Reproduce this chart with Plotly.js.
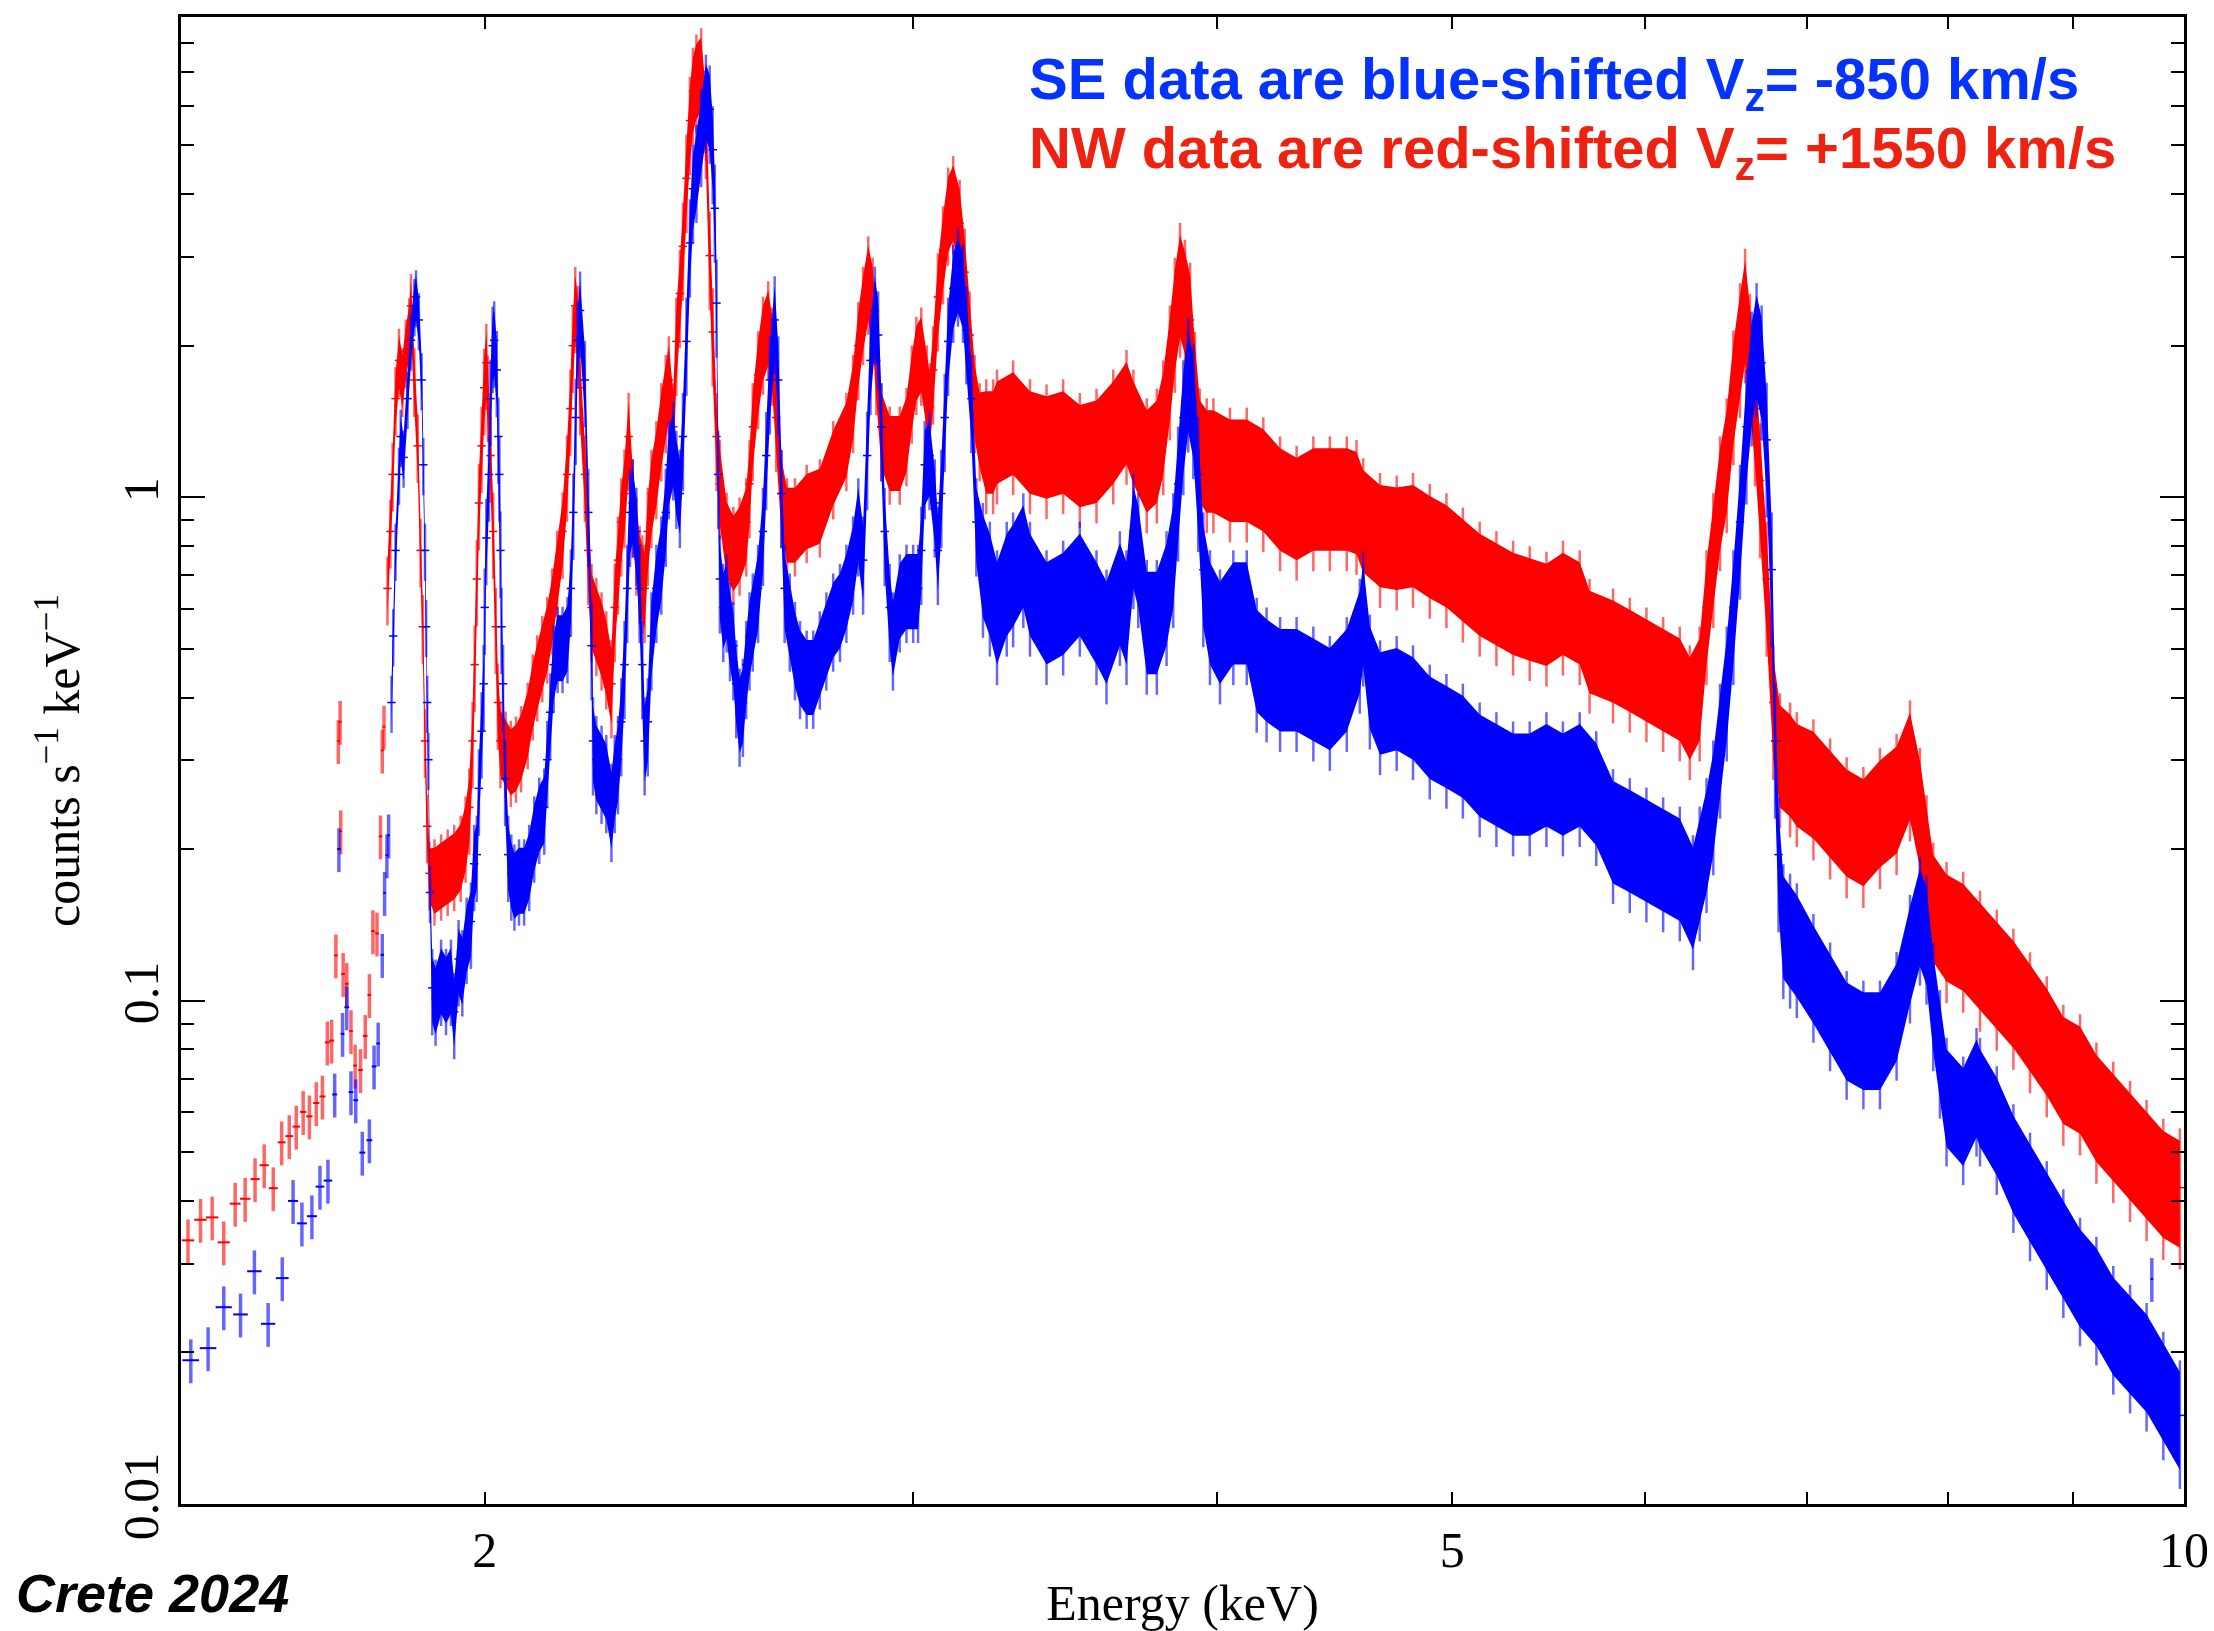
<!DOCTYPE html>
<html><head><meta charset="utf-8">
<script src="https://cdn.plot.ly/plotly-3.0.1.min.js"></script>
<style>html,body{margin:0;padding:0;background:#fff}</style>
</head><body><div id="chart" style="width:2214px;height:1631px"></div>
<script>
// ---------- low-energy, sparsely binned points (keV, counts/s/keV) ----------
const nwBinE    = [1.510,1.528,1.545,1.562,1.579,1.594,1.609,1.623,1.637,1.650,1.662,1.673,1.684,1.694,1.705,1.715,1.723,1.730,1.737,1.741,1.744,1.745,1.749,1.755,1.762,1.769,1.778,1.786,1.793,1.799,1.806,1.812,1.815,1.818];
const nwBinRate = [0.0334,0.0367,0.0371,0.0331,0.0395,0.0404,0.0442,0.0471,0.0424,0.0523,0.0538,0.0562,0.0601,0.0589,0.0626,0.0645,0.0826,0.0833,0.123,0.328,0.358,0.217,0.113,0.108,0.0870,0.0743,0.0728,0.0851,0.1026,0.1374,0.136,0.212,0.314,0.350];
const nwBinHalfW= [0.009,0.009,0.009,0.009,0.008,0.008,0.007,0.007,0.007,0.006,0.006,0.006,0.005,0.005,0.005,0.005,0.004,0.004,0.003,0.002,0.002,0.002,0.003,0.003,0.003,0.003,0.004,0.004,0.003,0.003,0.003,0.003,0.002,0.002];
const seBinE    = [1.514,1.539,1.562,1.587,1.608,1.629,1.651,1.668,1.682,1.698,1.711,1.724,1.735,1.742,1.748,1.755,1.762,1.770,1.781,1.793,1.801,1.808,1.815,1.819,1.823,1.826,9.70];
const seBinRate = [0.0193,0.0204,0.0246,0.0238,0.0290,0.0228,0.0281,0.0400,0.0361,0.0373,0.0427,0.0439,0.0651,0.200,0.0859,0.097,0.0658,0.0634,0.0499,0.0528,0.0740,0.0822,0.1233,0.1637,0.1945,0.213,0.028];
const seBinHalfW= [0.012,0.012,0.012,0.011,0.011,0.011,0.010,0.008,0.008,0.008,0.007,0.007,0.004,0.003,0.003,0.004,0.004,0.004,0.005,0.005,0.004,0.003,0.003,0.002,0.002,0.002,0.010];

// ---------- NW (red-shifted) spectrum, densely binned ----------
const nwE = [1.824,1.829,1.833,1.838,1.844,1.850,1.856,1.862,1.865,1.871,1.877,1.882,1.886,1.890,1.894,1.898,1.907,1.919,1.931,1.943,1.955,1.964,1.971,1.977,1.981,1.985,1.989,1.994,1.999,2.003,2.006,2.011,2.016,2.021,2.025,2.030,2.040,2.050,2.060,2.070,2.083,2.093,2.102,2.112,2.122,2.132,2.142,2.153,2.162,2.169,2.174,2.179,2.184,
 2.189,2.199,2.206,2.213,2.223,2.234,2.244,2.255,2.262,2.269,2.276,2.283,2.292,2.301,2.309,2.316,2.322,2.327,2.334,2.342,2.353,2.364,2.374,2.381,2.391,2.398,2.406,2.413,2.421,2.429,2.436,2.444,2.455,2.466,2.475,2.482,2.491,2.499,2.515,2.531,2.546,2.562,2.570,2.578,2.591,2.603,2.616,2.626,2.636,2.649,2.663,2.683,2.713,2.747,2.782,2.817,2.835,2.849,2.862,2.876,2.888,2.898,2.912,2.935,2.963,2.982,2.997,3.010,3.024,3.040,3.048,3.058,3.072,3.087,3.102,3.117,3.136,3.151,3.166,3.181,3.196,3.216,3.237,
 3.249,3.299,3.352,3.405,3.459,3.514,3.570,3.627,3.673,3.697,3.744,3.780,3.803,3.827,3.845,3.864,3.882,3.901,3.919,3.937,3.963,3.988,4.051,4.116,4.181,4.248,4.315,4.384,4.453,4.525,4.567,4.596,
 4.670,4.744,4.818,4.895,4.973,5.051,5.132,5.214,5.297,5.381,5.467,5.553,5.642,5.695,5.823,5.916,6.010,6.106,6.203,6.262,6.321,6.362,6.403,6.444,6.485,6.526,6.567,6.599,6.629,6.661,6.693,6.735,6.778,6.820,6.886,
 6.930,7.040,7.152,7.265,7.381,7.498,7.617,7.714,7.787,7.836,7.886,7.986,8.113,8.243,8.375,8.508,8.643,8.781,8.920,9.062,9.204,9.352,9.502,9.652,9.806,9.961];
const nwRate = [0.659,0.855,1.11,1.57,1.87,1.71,1.95,2.15,2.40,1.71,1.265,0.784,0.553,0.328,0.222,0.179,0.175,0.179,0.183,0.187,0.195,0.213,0.242,0.328,0.465,0.688,0.974,1.265,1.65,1.85,1.60,1.21,0.855,0.553,0.391,0.328,0.314,0.301,0.307,0.322,0.358,0.408,0.445,0.486,0.530,0.604,0.718,0.855,1.11,1.50,2.00,2.40,2.20,
 1.65,1.11,0.784,0.604,0.566,0.530,0.486,0.426,0.604,0.750,0.893,1.017,1.32,0.974,0.818,0.718,0.688,0.659,0.855,1.017,1.16,1.38,1.57,1.71,1.38,2.04,2.54,3.15,4.30,5.60,6.40,6.80,7.00,5.50,3.02,2.13,1.32,1.063,0.836,0.784,0.818,0.893,1.063,1.38,1.75,2.05,2.20,1.95,1.44,1.017,0.893,0.893,0.95,0.974,1.16,1.32,1.57,2.00,2.35,2.70,2.45,1.87,1.38,1.24,1.24,1.35,1.64,1.87,1.95,1.64,1.51,1.79,2.50,3.10,3.70,3.90,3.50,2.80,2.10,1.57,1.38,1.32,1.32,
 1.38,1.44,1.32,1.29,1.32,1.24,1.265,1.38,1.51,1.38,1.21,1.265,1.44,1.85,2.30,2.70,2.50,2.25,1.64,1.265,1.21,1.21,1.16,1.16,1.11,1.017,0.974,1.017,1.017,1.017,1.0,0.92,
 0.86,0.85,0.86,0.818,0.784,0.734,0.688,0.659,0.631,0.615,0.600,0.631,0.604,0.530,0.507,0.486,0.465,0.445,0.426,0.391,0.426,0.604,0.784,1.017,1.21,1.65,2.05,2.40,1.95,1.50,1.08,0.688,0.391,0.314,0.301,
 0.288,0.276,0.253,0.232,0.222,0.242,0.258,0.301,0.242,0.195,0.157,0.1436,0.1375,0.126,0.1155,0.1059,0.0951,0.0852,0.0748,0.0716,0.0629,0.0576,0.0528,0.0484,0.0444,0.0425];

// ---------- SE (blue-shifted) spectrum, densely binned ----------
const seE = [1.831,1.834,1.838,1.844,1.847,1.852,1.859,1.865,1.871,1.874,1.879,1.884,1.887,1.890,1.892,1.894,1.896,1.899,1.903,1.909,1.919,1.928,1.937,1.943,1.951,1.958,1.966,1.974,1.980,1.985,1.989,1.994,1.998,2.000,2.003,2.008,2.011,2.015,2.018,2.023,2.026,2.028,2.030,2.032,2.035,2.039,2.045,2.051,2.057,2.066,2.076,2.086,2.096,2.106,2.116,2.122,2.128,2.135,2.143,2.153,2.163,2.170,2.175,2.180,2.184,
 2.189,2.199,2.206,2.213,2.216,2.223,2.234,2.244,2.255,2.262,2.269,2.276,2.283,2.289,2.295,2.301,2.309,2.316,2.322,2.327,2.334,2.342,2.353,2.364,2.374,2.381,2.391,2.398,2.406,2.413,2.421,2.429,2.436,2.444,2.455,2.466,2.475,2.482,2.487,2.491,2.495,2.499,2.507,2.515,2.523,2.531,2.538,2.546,2.554,2.562,2.570,2.578,2.591,2.603,2.611,2.620,2.632,2.641,2.649,2.657,2.670,2.683,2.696,2.713,2.730,2.747,2.764,2.782,2.800,2.817,2.835,2.849,2.862,2.873,2.882,2.894,2.903,2.912,2.921,2.935,2.944,2.963,2.982,3.001,3.015,3.024,3.034,3.048,3.063,3.072,3.082,3.092,3.102,3.117,3.131,3.146,3.156,3.171,3.186,3.206,3.227,
 3.249,3.279,3.299,3.331,3.352,3.405,3.459,3.514,3.570,3.604,3.650,3.673,3.697,3.714,3.744,3.780,3.815,3.839,3.857,3.876,3.894,3.913,3.931,3.950,3.975,4.013,4.064,4.116,4.155,4.194,4.248,4.315,4.384,4.453,4.525,4.581,4.596,4.625,
 4.670,4.744,4.818,4.895,4.973,5.051,5.132,5.214,5.297,5.381,5.467,5.553,5.642,5.731,5.823,5.916,6.010,6.106,6.203,6.281,6.321,6.362,6.403,6.444,6.485,6.526,6.567,6.607,6.640,6.671,6.703,6.735,6.767,6.789,6.811,6.842,6.886,
 6.930,7.040,7.152,7.265,7.381,7.498,7.617,7.714,7.787,7.836,7.886,7.936,7.986,8.113,8.216,8.243,8.375,8.508,8.643,8.781,8.920,9.062,9.204,9.352,9.502,9.652,9.806,9.961];
const seRate = [0.391,0.530,0.784,1.11,1.32,1.2,1.57,2.05,2.40,2.50,2.25,1.71,1.16,0.784,0.553,0.391,0.301,0.164,0.106,0.101,0.1106,0.106,0.1106,0.095,0.121,0.1155,0.134,0.1436,0.187,0.195,0.264,0.343,0.426,0.604,0.83,1.11,1.57,2.00,2.05,1.79,1.32,1.11,0.784,0.553,0.426,0.276,0.195,0.179,0.171,0.175,0.175,0.187,0.213,0.232,0.242,0.301,0.374,0.465,0.507,0.507,0.530,0.659,0.933,1.44,2.05,
 2.35,1.71,0.933,0.507,0.328,0.301,0.288,0.276,0.242,0.276,0.301,0.358,0.465,0.659,0.933,0.974,0.855,0.659,0.465,0.328,0.358,0.530,0.659,0.750,0.933,1.16,1.265,1.11,1.017,1.32,2.04,3.20,4.10,4.50,5.30,6.20,5.90,4.90,3.75,2.43,1.11,0.688,0.604,0.631,0.553,0.507,0.426,0.374,0.391,0.465,0.530,0.578,0.659,0.855,1.21,1.71,2.25,1.71,1.017,0.659,0.578,0.507,0.465,0.445,0.445,0.486,0.530,0.578,0.604,0.659,0.750,0.893,0.750,1.21,1.87,2.35,2.10,1.38,0.855,0.604,0.530,0.631,0.659,0.659,0.659,0.784,1.16,1.21,0.974,0.784,1.017,1.44,2.04,2.60,2.80,2.60,2.15,1.57,0.893,0.750,0.688,
 0.604,0.688,0.718,0.784,0.688,0.604,0.631,0.688,0.604,0.553,0.659,0.604,0.855,0.784,0.578,0.578,0.659,0.784,1.063,1.44,1.75,1.55,1.11,0.718,0.604,0.553,0.604,0.604,0.486,0.465,0.445,0.445,0.426,0.408,0.445,0.530,0.600,0.450,
 0.400,0.408,0.391,0.358,0.343,0.328,0.301,0.288,0.276,0.276,0.288,0.276,0.288,0.264,0.222,0.213,0.204,0.195,0.187,0.164,0.187,0.213,0.253,0.328,0.426,0.604,0.893,1.38,1.80,2.05,1.85,1.30,0.718,0.328,0.195,0.1436,0.1375,
 0.1317,0.1155,0.1014,0.0890,0.0852,0.0852,0.0971,0.1261,0.150,0.1375,0.1014,0.0816,0.0656,0.0602,0.0686,0.0656,0.0576,0.0484,0.0425,0.0373,0.0328,0.0288,0.0264,0.0231,0.0212,0.0195,0.0171,0.0150];

// relative half-spread of the data band (scatter), by energy range
const nwSpreadFrom = [1.8, 1.9, 2.2, 3.2, 7.0];
const nwSpread     = [0.12, 0.15, 0.17, 0.23, 0.24];
const seSpreadFrom = [1.8, 1.9, 2.2, 3.2, 7.0];
const seSpread     = [0.10, 0.15, 0.17, 0.23, 0.22];
// individual error bars reach a little beyond the scatter band
const whiskerScale = 1.3;
const binSpread = 0.10;

const labels = {
  se: 'SE data are blue-shifted V<sub>z</sub>= -850 km/s',
  nw: 'NW data are red-shifted V<sub>z</sub>= +1550 km/s',
  xTitle: 'Energy (keV)',
  yTitle: 'counts s<sup>\u22121</sup> keV<sup>\u22121</sup>',
  credit: 'Crete 2024'
};

function spreadAt(e, from, vals) {
  let v = vals[0];
  for (let i = 0; i < from.length; i++) if (e >= from[i]) v = vals[i];
  return v;
}

function denseTraces(E, R, from, vals, col, light) {
  const f = E.map(e => spreadAt(e, from, vals));
  const lo = R.map((r, i) => r * (1 - f[i]));
  const hi = R.map((r, i) => r * (1 + f[i]));
  return [
    {x: E, y: lo, mode: 'lines', line: {width: 0, color: col}, hoverinfo: 'skip'},
    {x: E, y: hi, mode: 'lines', line: {width: 0, color: col}, fill: 'tonexty', fillcolor: col, hoverinfo: 'skip'},
    {x: E, y: R, mode: 'markers',
     marker: {symbol: 'line-ew-open', size: 6, color: col, line: {width: 1.5, color: col}},
     error_y: {type: 'data', array: R.map((r, i) => r * f[i] * whiskerScale), color: light, thickness: 2.5, width: 0}}
  ];
}

function binTraces(E, R, W, col, light) {
  return {
    x: E, y: R, mode: 'markers',
    marker: {symbol: 'line-ew-open', size: 2, color: col, line: {width: 1, color: col}},
    error_x: {type: 'data', array: W, color: col, thickness: 2, width: 0},
    error_y: {type: 'data', array: R.map(r => r * binSpread), color: light, thickness: 3.5, width: 0}
  };
}

const RED = 'rgb(255,0,0)', REDL = 'rgba(255,0,0,0.6)';
const BLUE = 'rgb(0,0,255)', BLUEL = 'rgba(0,0,255,0.6)';

const traces = [
  ...denseTraces(nwE, nwRate, nwSpreadFrom, nwSpread, RED, REDL),
  binTraces(nwBinE, nwBinRate, nwBinHalfW, RED, REDL),
  ...denseTraces(seE, seRate, seSpreadFrom, seSpread, BLUE, BLUEL),
  binTraces(seBinE, seBinRate, seBinHalfW, BLUE, BLUEL)
];

const serif = 'Liberation Serif, Times New Roman, serif';
const sans = 'Liberation Sans, Arial, Helvetica, sans-serif';

const layout = {
  width: 2214, height: 1631,
  margin: {l: 181, r: 30, t: 17, b: 127, pad: 0},
  paper_bgcolor: '#ffffff', plot_bgcolor: '#ffffff',
  showlegend: false,
  font: {family: serif, color: '#000'},
  xaxis: {
    type: 'log', range: [Math.log10(1.5), 1],
    tickmode: 'array', tickvals: [2, 5, 10], ticktext: ['2', '5', '10'],
    ticks: 'inside', ticklen: 12, tickwidth: 2, tickcolor: '#000',
    showline: true, linewidth: 3, linecolor: '#000', mirror: 'allticks',
    showgrid: false, zeroline: false,
    tickfont: {family: serif, size: 50, color: '#000'},
    minor: {tickmode: 'array', tickvals: [3, 4, 6, 7, 8, 9], ticks: 'inside', ticklen: 12, tickwidth: 2, tickcolor: '#000', showgrid: false},
    title: {text: labels.xTitle, font: {family: serif, size: 50, color: '#000'}, standoff: 14}
  },
  yaxis: {
    type: 'log', range: [-2, 0.954],
    tickmode: 'array', tickvals: [0.01, 0.1, 1], ticktext: ['0.01', '0.1', '1'],
    tickangle: -90,
    ticks: 'inside', ticklen: 24, tickwidth: 2, tickcolor: '#000',
    showline: true, linewidth: 3, linecolor: '#000', mirror: 'allticks',
    showgrid: false, zeroline: false,
    tickfont: {family: serif, size: 50, color: '#000'},
    minor: {tickmode: 'array', tickvals: [0.02,0.03,0.04,0.05,0.06,0.07,0.08,0.09,0.2,0.3,0.4,0.5,0.6,0.7,0.8,0.9,2,3,4,5,6,7,8,9],
            ticks: 'inside', ticklen: 13, tickwidth: 2, tickcolor: '#000', showgrid: false},
    title: {text: labels.yTitle, font: {family: serif, size: 50, color: '#000'}, standoff: 18}
  },
  annotations: [
    {xref: 'paper', yref: 'paper', x: 0.4224, y: 0.9556, xanchor: 'left', yanchor: 'middle', showarrow: false,
     text: '<b>' + labels.se + '</b>', font: {family: sans, size: 58, color: 'rgb(4,51,255)'}},
    {xref: 'paper', yref: 'paper', x: 0.4224, y: 0.9092, xanchor: 'left', yanchor: 'middle', showarrow: false,
     text: '<b>' + labels.nw + '</b>', font: {family: sans, size: 58, color: 'rgb(238,34,17)'}},
    {xref: 'paper', yref: 'paper', x: -0.0834, y: -0.060, xanchor: 'left', yanchor: 'middle', showarrow: false,
     text: '<b><i>' + labels.credit + '</i></b>', font: {family: sans, size: 54, color: '#000'}}
  ]
};

Plotly.newPlot('chart', traces, layout, {staticPlot: true, displayModeBar: false});
</script>
</body></html>
